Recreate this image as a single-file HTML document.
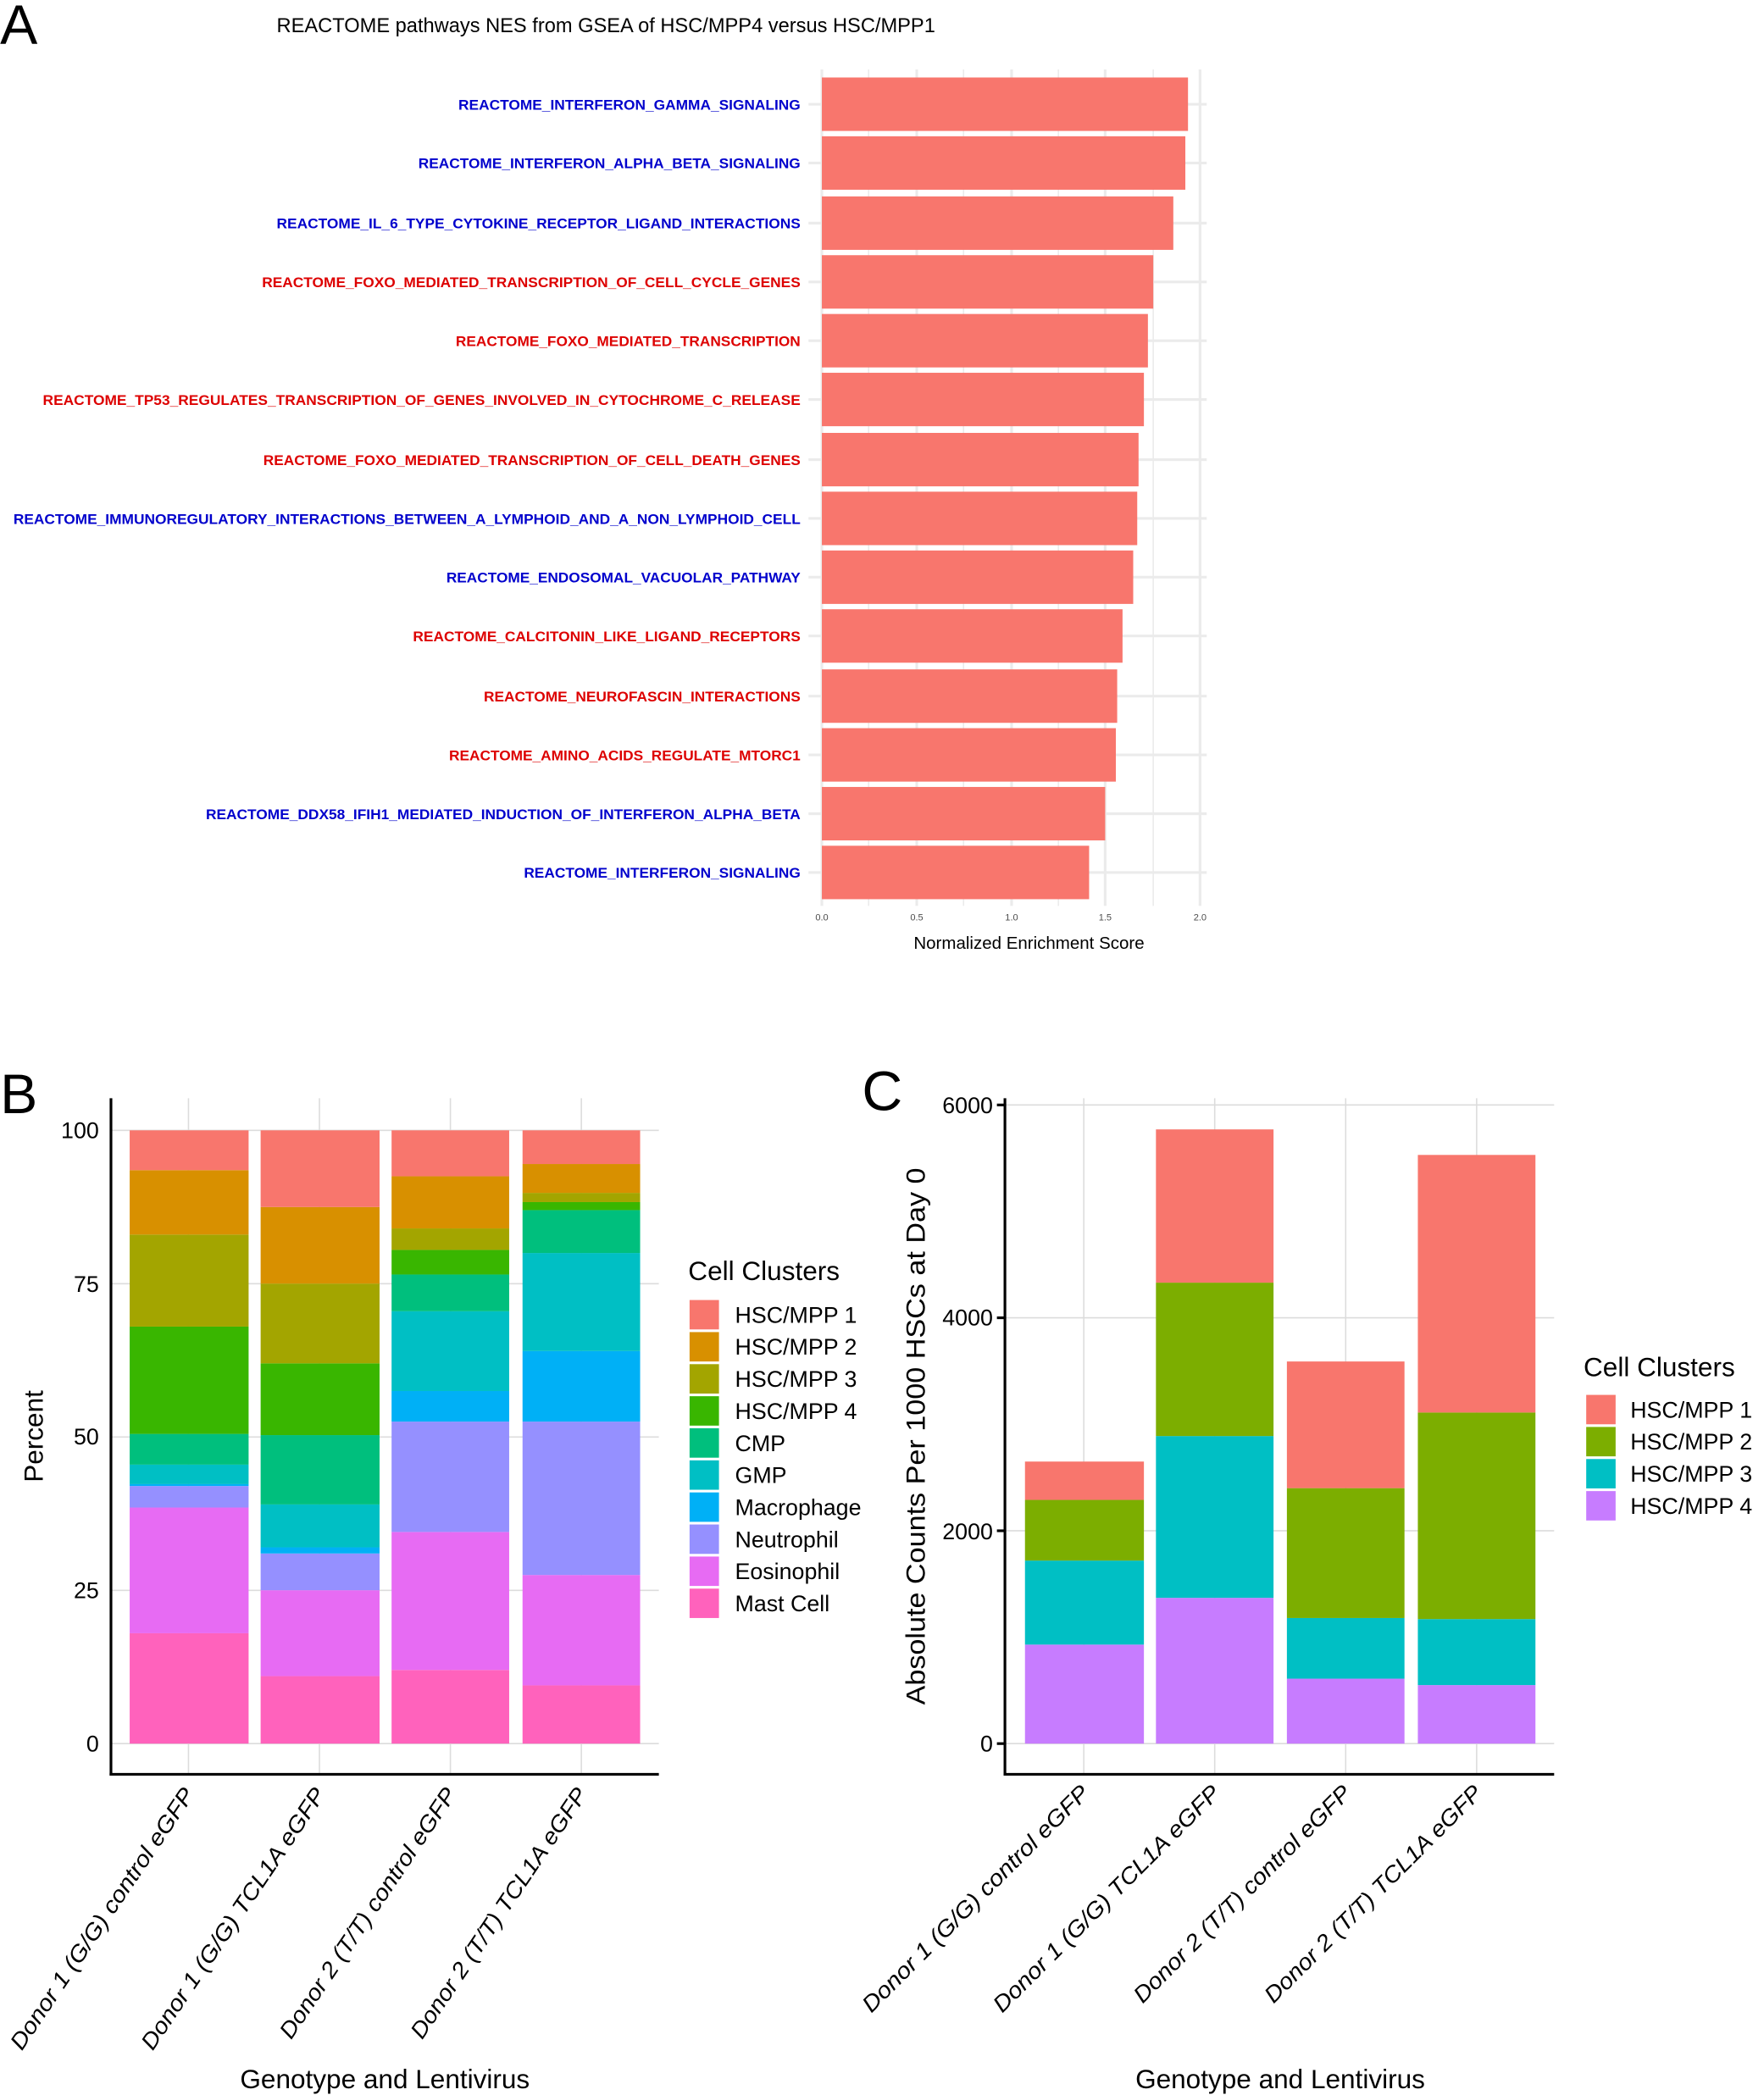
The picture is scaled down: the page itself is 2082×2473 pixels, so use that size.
<!DOCTYPE html>
<html><head><meta charset="utf-8"><style>
html,body{margin:0;padding:0;background:#fff;}
svg{display:block;}
text{font-family:"Liberation Sans",sans-serif;}
</style></head><body>
<svg width="2082" height="2473" viewBox="0 0 1320 1568" xmlns="http://www.w3.org/2000/svg">
<rect width="1320" height="1568" fill="#fff"/>
<!-- Panel A -->
<text x="0" y="33" font-size="42">A</text>
<text x="207" y="24" font-size="15">REACTOME pathways NES from GSEA of HSC/MPP4 versus HSC/MPP1</text>
<g stroke="#ebebeb" stroke-width="1">
<line x1="615" y1="52" x2="615" y2="678" stroke-width="2"/><line x1="650" y1="52" x2="650" y2="678"/>
<line x1="686" y1="52" x2="686" y2="678" stroke-width="2"/><line x1="721" y1="52" x2="721" y2="678"/>
<line x1="757" y1="52" x2="757" y2="678" stroke-width="2"/><line x1="792" y1="52" x2="792" y2="678"/>
<line x1="827" y1="52" x2="827" y2="678" stroke-width="2"/><line x1="863" y1="52" x2="863" y2="678"/>
<line x1="898" y1="52" x2="898" y2="678" stroke-width="2"/>
</g>
<g stroke="#ebebeb" stroke-width="2">
<line x1="605" y1="78" x2="903" y2="78"/><line x1="605" y1="122" x2="903" y2="122"/><line x1="605" y1="167" x2="903" y2="167"/><line x1="605" y1="211" x2="903" y2="211"/><line x1="605" y1="255" x2="903" y2="255"/><line x1="605" y1="299" x2="903" y2="299"/><line x1="605" y1="344" x2="903" y2="344"/><line x1="605" y1="388" x2="903" y2="388"/><line x1="605" y1="432" x2="903" y2="432"/><line x1="605" y1="476" x2="903" y2="476"/><line x1="605" y1="521" x2="903" y2="521"/><line x1="605" y1="565" x2="903" y2="565"/><line x1="605" y1="609" x2="903" y2="609"/><line x1="605" y1="653" x2="903" y2="653"/>
</g>
<g fill="#F8766D">
<rect x="615" y="58" width="274" height="40"/><rect x="615" y="102" width="272" height="40"/><rect x="615" y="147" width="263" height="40"/><rect x="615" y="191" width="248" height="40"/><rect x="615" y="235" width="244" height="40"/><rect x="615" y="279" width="241" height="40"/><rect x="615" y="324" width="237" height="40"/><rect x="615" y="368" width="236" height="40"/><rect x="615" y="412" width="233" height="40"/><rect x="615" y="456" width="225" height="40"/><rect x="615" y="501" width="221" height="40"/><rect x="615" y="545" width="220" height="40"/><rect x="615" y="589" width="212" height="40"/><rect x="615" y="633" width="200" height="40"/>
</g>
<g font-size="10.5" font-weight="bold" text-anchor="end">
<text x="599" y="82" fill="#0000CC" textLength="256" lengthAdjust="spacingAndGlyphs">REACTOME_INTERFERON_GAMMA_SIGNALING</text>
<text x="599" y="126" fill="#0000CC" textLength="286" lengthAdjust="spacingAndGlyphs">REACTOME_INTERFERON_ALPHA_BETA_SIGNALING</text>
<text x="599" y="171" fill="#0000CC" textLength="392" lengthAdjust="spacingAndGlyphs">REACTOME_IL_6_TYPE_CYTOKINE_RECEPTOR_LIGAND_INTERACTIONS</text>
<text x="599" y="215" fill="#DD0000" textLength="403" lengthAdjust="spacingAndGlyphs">REACTOME_FOXO_MEDIATED_TRANSCRIPTION_OF_CELL_CYCLE_GENES</text>
<text x="599" y="259" fill="#DD0000" textLength="258" lengthAdjust="spacingAndGlyphs">REACTOME_FOXO_MEDIATED_TRANSCRIPTION</text>
<text x="599" y="303" fill="#DD0000" textLength="567" lengthAdjust="spacingAndGlyphs">REACTOME_TP53_REGULATES_TRANSCRIPTION_OF_GENES_INVOLVED_IN_CYTOCHROME_C_RELEASE</text>
<text x="599" y="348" fill="#DD0000" textLength="402" lengthAdjust="spacingAndGlyphs">REACTOME_FOXO_MEDIATED_TRANSCRIPTION_OF_CELL_DEATH_GENES</text>
<text x="599" y="392" fill="#0000CC" textLength="589" lengthAdjust="spacingAndGlyphs">REACTOME_IMMUNOREGULATORY_INTERACTIONS_BETWEEN_A_LYMPHOID_AND_A_NON_LYMPHOID_CELL</text>
<text x="599" y="436" fill="#0000CC" textLength="265" lengthAdjust="spacingAndGlyphs">REACTOME_ENDOSOMAL_VACUOLAR_PATHWAY</text>
<text x="599" y="480" fill="#DD0000" textLength="290" lengthAdjust="spacingAndGlyphs">REACTOME_CALCITONIN_LIKE_LIGAND_RECEPTORS</text>
<text x="599" y="525" fill="#DD0000" textLength="237" lengthAdjust="spacingAndGlyphs">REACTOME_NEUROFASCIN_INTERACTIONS</text>
<text x="599" y="569" fill="#DD0000" textLength="263" lengthAdjust="spacingAndGlyphs">REACTOME_AMINO_ACIDS_REGULATE_MTORC1</text>
<text x="599" y="613" fill="#0000CC" textLength="445" lengthAdjust="spacingAndGlyphs">REACTOME_DDX58_IFIH1_MEDIATED_INDUCTION_OF_INTERFERON_ALPHA_BETA</text>
<text x="599" y="657" fill="#0000CC" textLength="207" lengthAdjust="spacingAndGlyphs">REACTOME_INTERFERON_SIGNALING</text>
</g>
<g font-size="7" fill="#4d4d4d" text-anchor="middle">
<text x="615" y="689">0.0</text><text x="686" y="689">0.5</text><text x="757" y="689">1.0</text><text x="827" y="689">1.5</text><text x="898" y="689">2.0</text>
</g>
<text x="770" y="710" font-size="13" text-anchor="middle">Normalized Enrichment Score</text>

<!-- Panel B -->
<text x="0" y="833" font-size="42">B</text>
<g stroke="#dcdcdc" stroke-width="1">
<line x1="83" y1="1305" x2="493" y2="1305"/><line x1="83" y1="1190.3" x2="493" y2="1190.3"/><line x1="83" y1="1075.5" x2="493" y2="1075.5"/><line x1="83" y1="960.8" x2="493" y2="960.8"/><line x1="83" y1="846" x2="493" y2="846"/>
<line x1="141" y1="822" x2="141" y2="1328"/><line x1="239" y1="822" x2="239" y2="1328"/><line x1="337" y1="822" x2="337" y2="1328"/><line x1="435" y1="822" x2="435" y2="1328"/>
</g>
<rect x="97" y="1222.4" width="89" height="82.6" fill="#FF62BC"/>
<rect x="97" y="1128.3" width="89" height="94.1" fill="#E76BF3"/>
<rect x="97" y="1112.2" width="89" height="16.1" fill="#9590FF"/>
<rect x="97" y="1110.8" width="89" height="1.4" fill="#00B0F6"/>
<rect x="97" y="1096.2" width="89" height="14.6" fill="#00BFC4"/>
<rect x="97" y="1073.2" width="89" height="23" fill="#00BF7D"/>
<rect x="97" y="992.9" width="89" height="80.3" fill="#39B600"/>
<rect x="97" y="924" width="89" height="68.9" fill="#A3A500"/>
<rect x="97" y="875.8" width="89" height="48.2" fill="#D89000"/>
<rect x="97" y="846" width="89" height="29.8" fill="#F8766D"/>
<rect x="195" y="1254.5" width="89" height="50.5" fill="#FF62BC"/>
<rect x="195" y="1190.2" width="89" height="64.3" fill="#E76BF3"/>
<rect x="195" y="1162.7" width="89" height="27.5" fill="#9590FF"/>
<rect x="195" y="1158.1" width="89" height="4.6" fill="#00B0F6"/>
<rect x="195" y="1126" width="89" height="32.1" fill="#00BFC4"/>
<rect x="195" y="1074.1" width="89" height="51.9" fill="#00BF7D"/>
<rect x="195" y="1020.4" width="89" height="53.7" fill="#39B600"/>
<rect x="195" y="960.7" width="89" height="59.7" fill="#A3A500"/>
<rect x="195" y="903.4" width="89" height="57.3" fill="#D89000"/>
<rect x="195" y="846" width="89" height="57.4" fill="#F8766D"/>
<rect x="293" y="1249.9" width="88" height="55.1" fill="#FF62BC"/>
<rect x="293" y="1146.6" width="88" height="103.3" fill="#E76BF3"/>
<rect x="293" y="1064" width="88" height="82.6" fill="#9590FF"/>
<rect x="293" y="1041.1" width="88" height="22.9" fill="#00B0F6"/>
<rect x="293" y="981.4" width="88" height="59.7" fill="#00BFC4"/>
<rect x="293" y="953.9" width="88" height="27.5" fill="#00BF7D"/>
<rect x="293" y="935.5" width="88" height="18.4" fill="#39B600"/>
<rect x="293" y="919.4" width="88" height="16.1" fill="#A3A500"/>
<rect x="293" y="880.4" width="88" height="39" fill="#D89000"/>
<rect x="293" y="846" width="88" height="34.4" fill="#F8766D"/>
<rect x="391" y="1261.4" width="88" height="43.6" fill="#FF62BC"/>
<rect x="391" y="1178.8" width="88" height="82.6" fill="#E76BF3"/>
<rect x="391" y="1064" width="88" height="114.8" fill="#9590FF"/>
<rect x="391" y="1011.2" width="88" height="52.8" fill="#00B0F6"/>
<rect x="391" y="937.8" width="88" height="73.4" fill="#00BFC4"/>
<rect x="391" y="905.7" width="88" height="32.1" fill="#00BF7D"/>
<rect x="391" y="899.7" width="88" height="6" fill="#39B600"/>
<rect x="391" y="892.8" width="88" height="6.9" fill="#A3A500"/>
<rect x="391" y="871.2" width="88" height="21.6" fill="#D89000"/>
<rect x="391" y="846" width="88" height="25.2" fill="#F8766D"/>
<g stroke="#000" stroke-width="2"><line x1="83" y1="822" x2="83" y2="1329"/><line x1="82" y1="1328" x2="493" y2="1328"/></g>
<g font-size="17" text-anchor="end" fill="#000">
<text x="74" y="1311">0</text><text x="74" y="1196">25</text><text x="74" y="1081">50</text><text x="74" y="967">75</text><text x="74" y="852">100</text>
</g>
<text transform="translate(32,1075) rotate(-90)" font-size="20" text-anchor="middle">Percent</text>
<g font-size="17" text-anchor="end" font-style="italic">
<text transform="translate(146,1343) rotate(-56)" textLength="232" lengthAdjust="spacingAndGlyphs">Donor 1 (G/G) control eGFP</text>
<text transform="translate(244,1343) rotate(-56)" textLength="232" lengthAdjust="spacingAndGlyphs">Donor 1 (G/G) TCL1A eGFP</text>
<text transform="translate(342,1343) rotate(-56)" textLength="222" lengthAdjust="spacingAndGlyphs">Donor 2 (T/T) control eGFP</text>
<text transform="translate(440,1343) rotate(-56)" textLength="222" lengthAdjust="spacingAndGlyphs">Donor 2 (T/T) TCL1A eGFP</text>
</g>
<text x="288" y="1563" font-size="20" text-anchor="middle">Genotype and Lentivirus</text>
<text x="515" y="958" font-size="20">Cell Clusters</text>
<g>
<rect x="516" y="973" width="22" height="22" fill="#F8766D"/><rect x="516" y="997" width="22" height="22" fill="#D89000"/><rect x="516" y="1021" width="22" height="22" fill="#A3A500"/><rect x="516" y="1045" width="22" height="22" fill="#39B600"/><rect x="516" y="1069" width="22" height="22" fill="#00BF7D"/><rect x="516" y="1093" width="22" height="22" fill="#00BFC4"/><rect x="516" y="1117" width="22" height="22" fill="#00B0F6"/><rect x="516" y="1141" width="22" height="22" fill="#9590FF"/><rect x="516" y="1165" width="22" height="22" fill="#E76BF3"/><rect x="516" y="1189" width="22" height="22" fill="#FF62BC"/>
</g>
<g font-size="17">
<text x="550" y="990">HSC/MPP 1</text><text x="550" y="1014">HSC/MPP 2</text><text x="550" y="1038">HSC/MPP 3</text><text x="550" y="1062">HSC/MPP 4</text><text x="550" y="1086">CMP</text><text x="550" y="1110">GMP</text><text x="550" y="1134">Macrophage</text><text x="550" y="1158">Neutrophil</text><text x="550" y="1182">Eosinophil</text><text x="550" y="1206">Mast Cell</text>
</g>

<!-- Panel C -->
<text x="645" y="831" font-size="42">C</text>
<g stroke="#dcdcdc" stroke-width="1">
<line x1="752" y1="1305" x2="1163" y2="1305"/><line x1="752" y1="1145.7" x2="1163" y2="1145.7"/><line x1="752" y1="986.3" x2="1163" y2="986.3"/><line x1="752" y1="827" x2="1163" y2="827"/>
<line x1="811" y1="822" x2="811" y2="1328"/><line x1="909" y1="822" x2="909" y2="1328"/><line x1="1007" y1="822" x2="1007" y2="1328"/><line x1="1105" y1="822" x2="1105" y2="1328"/>
</g>
<rect x="767" y="1230.9" width="89" height="74.1" fill="#C77CFF"/>
<rect x="767" y="1168" width="89" height="62.9" fill="#00BFC4"/>
<rect x="767" y="1122.6" width="89" height="45.4" fill="#7CAE00"/>
<rect x="767" y="1093.9" width="89" height="28.7" fill="#F8766D"/>
<rect x="865" y="1195.9" width="88" height="109.1" fill="#C77CFF"/>
<rect x="865" y="1074.8" width="88" height="121.1" fill="#00BFC4"/>
<rect x="865" y="960" width="88" height="114.8" fill="#7CAE00"/>
<rect x="865" y="845.3" width="88" height="114.7" fill="#F8766D"/>
<rect x="963" y="1256.4" width="88" height="48.6" fill="#C77CFF"/>
<rect x="963" y="1211" width="88" height="45.4" fill="#00BFC4"/>
<rect x="963" y="1113.8" width="88" height="97.2" fill="#7CAE00"/>
<rect x="963" y="1019" width="88" height="94.8" fill="#F8766D"/>
<rect x="1061" y="1261.2" width="88" height="43.8" fill="#C77CFF"/>
<rect x="1061" y="1211.8" width="88" height="49.4" fill="#00BFC4"/>
<rect x="1061" y="1057.2" width="88" height="154.6" fill="#7CAE00"/>
<rect x="1061" y="864.4" width="88" height="192.8" fill="#F8766D"/>
<g stroke="#000" stroke-width="2"><line x1="752" y1="822" x2="752" y2="1329"/><line x1="751" y1="1328" x2="1163" y2="1328"/>
<line x1="746" y1="1305" x2="752" y2="1305"/><line x1="746" y1="1145.7" x2="752" y2="1145.7"/><line x1="746" y1="986.3" x2="752" y2="986.3"/><line x1="746" y1="827" x2="752" y2="827"/></g>
<g font-size="17" text-anchor="end">
<text x="743" y="1311">0</text><text x="743" y="1152">2000</text><text x="743" y="992">4000</text><text x="743" y="833">6000</text>
</g>
<text transform="translate(692,1075) rotate(-90)" font-size="20" text-anchor="middle" font-family="DejaVu Sans, sans-serif" textLength="402" lengthAdjust="spacingAndGlyphs">Absolute Counts Per 1000 HSCs at Day 0</text>
<g font-size="17" text-anchor="end" font-style="italic">
<text transform="translate(816,1343) rotate(-45)" textLength="232" lengthAdjust="spacingAndGlyphs">Donor 1 (G/G) control eGFP</text>
<text transform="translate(914,1343) rotate(-45)" textLength="232" lengthAdjust="spacingAndGlyphs">Donor 1 (G/G) TCL1A eGFP</text>
<text transform="translate(1012,1343) rotate(-45)" textLength="222" lengthAdjust="spacingAndGlyphs">Donor 2 (T/T) control eGFP</text>
<text transform="translate(1110,1343) rotate(-45)" textLength="222" lengthAdjust="spacingAndGlyphs">Donor 2 (T/T) TCL1A eGFP</text>
</g>
<text x="958" y="1563" font-size="20" text-anchor="middle">Genotype and Lentivirus</text>
<text x="1185" y="1030" font-size="20">Cell Clusters</text>
<rect x="1187" y="1044" width="22" height="22" fill="#F8766D"/><rect x="1187" y="1068" width="22" height="22" fill="#7CAE00"/><rect x="1187" y="1092" width="22" height="22" fill="#00BFC4"/><rect x="1187" y="1116" width="22" height="22" fill="#C77CFF"/>
<g font-size="17">
<text x="1220" y="1061">HSC/MPP 1</text><text x="1220" y="1085">HSC/MPP 2</text><text x="1220" y="1109">HSC/MPP 3</text><text x="1220" y="1133">HSC/MPP 4</text>
</g>
</svg>
</body></html>
